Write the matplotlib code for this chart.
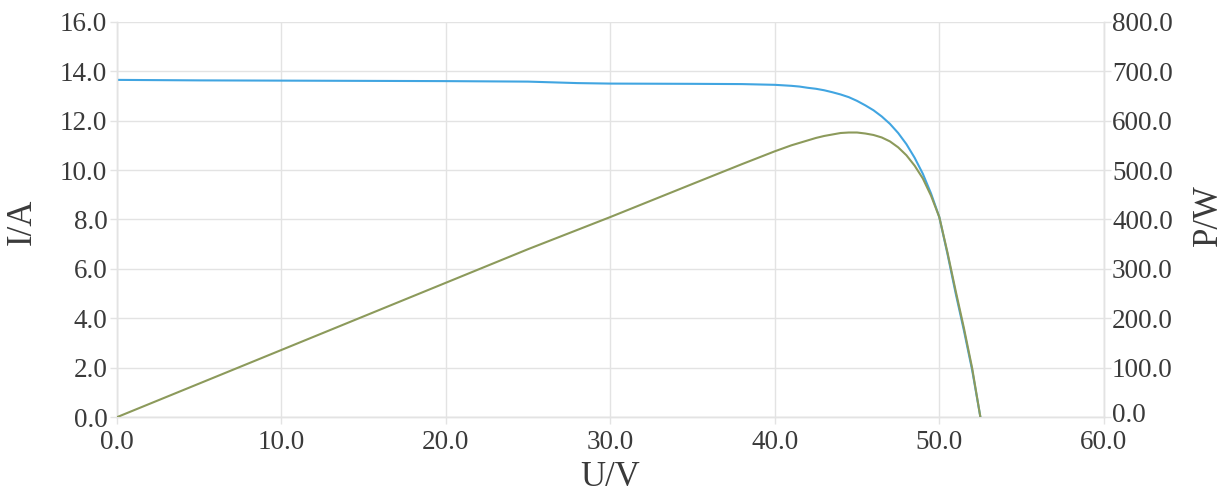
import matplotlib
matplotlib.use("Agg")
import matplotlib.pyplot as plt
from matplotlib.ticker import FormatStrFormatter
import matplotlib.transforms as mtransforms

# voltage (V), current (A), power (W)
voltage = [0, 5, 10, 15, 20, 25, 28, 30, 35, 38, 40, 40.5, 41, 41.5, 42, 42.5,
           43, 43.5, 44, 44.5, 45, 45.5, 46, 46.5, 47, 47.5, 48, 48.5, 49,
           49.5, 50, 50.5, 51, 51.5, 52, 52.5]
current = [13.65, 13.63, 13.62, 13.61, 13.6, 13.58, 13.52, 13.5, 13.49, 13.48,
           13.45, 13.43, 13.41, 13.38, 13.33, 13.29, 13.23, 13.15, 13.06,
           12.95, 12.8, 12.62, 12.42, 12.17, 11.87, 11.5, 11.05, 10.5, 9.85,
           9.05, 8.1, 6.6, 5.0, 3.5, 1.9, 0.0]
power = [0, 68, 136, 204, 272, 340, 379, 405, 472, 512, 538, 544, 550, 555,
         560, 565, 569, 572, 575, 576, 576, 574, 571, 566, 558, 546, 530, 509,
         483, 448, 405, 333, 255, 180, 99, 0]

TXT = "#3a3a3a"
GRID = "#e3e3e3"

plt.rcParams["font.family"] = ["Liberation Serif", "DejaVu Serif"]

fig = plt.figure(figsize=(12.28, 4.96), dpi=100)
ax = fig.add_axes([0.0953, 0.159, 0.8035, 0.797])
ax2 = ax.twinx()

ax.plot(voltage, current, color="#41a5e1", lw=1.5, zorder=3)
ax2.plot(voltage, power, color="#8c9a5b", lw=1.5, zorder=3)

ax.set_xlim(0, 60)
ax.set_ylim(0, 16)
ax2.set_ylim(0, 800)
ax.set_xticks(range(0, 61, 10))
ax.set_yticks(range(0, 17, 2))
ax2.set_yticks(range(0, 801, 100))
ax.xaxis.set_major_formatter(FormatStrFormatter("%.1f"))
ax.yaxis.set_major_formatter(FormatStrFormatter("%.1f"))
ax2.yaxis.set_major_formatter(FormatStrFormatter("%.1f"))

ax.grid(True, color=GRID, lw=1.0)
ax.set_axisbelow(True)
for a in (ax, ax2):
    a.spines["top"].set_visible(False)
    for side in ("left", "right", "bottom"):
        a.spines[side].set_color(GRID)
        a.spines[side].set_linewidth(1.0)
    a.tick_params(colors=GRID, labelcolor=TXT, labelsize=19.5, length=5, width=1)
ax.tick_params(axis="y", pad=2)
ax.tick_params(axis="x", pad=4)
ax2.tick_params(axis="y", pad=1)

# right-hand "0.0" sits a little higher, clear of the "60.0" below it
lab0 = ax2.get_yticklabels()[0]
lab0.set_transform(lab0.get_transform() + mtransforms.ScaledTranslation(0, 3 / 72, fig.dpi_scale_trans))

# axis titles
fig.text(22 / 1228, 1 - 222 / 496, "I/A", rotation=90, fontsize=25, color=TXT,
         ha="center", va="center")
fig.text(610 / 1228, 1 - 477 / 496, "U/V", fontsize=25, color=TXT,
         ha="center", va="center")
fig.text(1208 / 1228, 1 - 215 / 496, "P/W", rotation=90, fontsize=25, color=TXT,
         ha="center", va="center")

fig.savefig("out.png", dpi=100, facecolor="white")
